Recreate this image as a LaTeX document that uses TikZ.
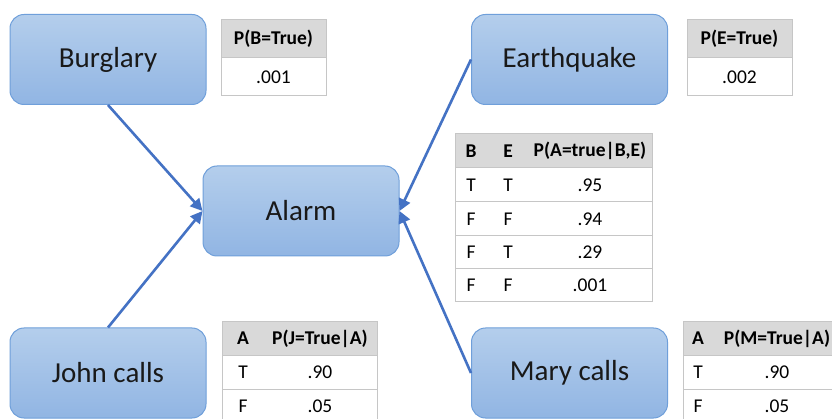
\documentclass[tikz,border=0pt]{standalone}
\usepackage{fontspec}
\setmainfont{Carlito}
\usetikzlibrary{arrows.meta}
\definecolor{nodetop}{HTML}{B4CEEC}
\definecolor{nodebot}{HTML}{91B5E3}
\definecolor{nodeline}{HTML}{6F9FDA}
\definecolor{arrowblue}{HTML}{4472C4}
\definecolor{tblline}{HTML}{C6C6C6}
\definecolor{tblhead}{HTML}{D9D9D9}
\begin{document}
\begin{tikzpicture}[x=1pt,y=-1pt,
  varnode/.style={draw=nodeline,line width=1pt,rounded corners=14pt,
    top color=nodetop,bottom color=nodebot,minimum width=196pt,minimum height=90pt,
    inner sep=0pt,font=\fontsize{29}{34}\selectfont,text=black!90},
  arr/.style={draw=arrowblue,line width=2.6pt,-{Triangle[length=12pt,width=12pt]}},
  tframe/.style={draw=tblline,line width=1pt},
  thead/.style={fill=tblhead,draw=tblline,line width=1pt},
  tsep/.style={draw=tblline,line width=1pt},
  hd/.style={inner sep=0pt,font=\fontsize{19.5}{23}\selectfont\bfseries,anchor=center},
  cell/.style={inner sep=0pt,font=\fontsize{19.5}{23}\selectfont,anchor=center}]
\useasboundingbox (0,0) rectangle (832,419);
\fill[white] (0,0) rectangle (832,419);

% variable nodes
\node[varnode] (burg) at (108,59.5) {Burglary};
\node[varnode] (earth) at (569.5,59.5) {Earthquake};
\node[varnode] (alarm) at (301,211) {Alarm};
\node[varnode] (john) at (108,373) {John calls};
\node[varnode] (mary) at (569.5,373) {Mary calls};

% connectors
\draw[arr] (burg.south) -- (alarm.west);
\draw[arr] (john.north) -- (alarm.west);
\draw[arr] (earth.west) -- (alarm.east);
\draw[arr] (mary.west) -- (alarm.east);

% P(B=True) table
\filldraw[thead] (221,20) rectangle (326,58);
\draw[tframe] (221,20) rectangle (326,96);
\node[hd] (pbh) at (273.5,39) {P(B=True)};
\node[cell] (pbv) at (273.5,77) {.001};

% P(E=True) table
\filldraw[thead] (687,20) rectangle (792,58);
\draw[tframe] (687,20) rectangle (792,96);
\node[hd] (peh) at (739.5,39) {P(E=True)};
\node[cell] (pev) at (739.5,77) {.002};

% Alarm CPT
\filldraw[thead] (455,134) rectangle (652,168);
\draw[tframe] (455,134) rectangle (652,302);
\foreach \yy in {202,236,269} \draw[tsep] (455,\yy) -- (652,\yy);
\node[hd] (ahb) at (471,151) {B};
\node[hd] (ahe) at (508,151) {E};
\node[hd] (ahp) at (590,151) {P(A=true|B,E)};
\node[cell] (ab1) at (471,185) {T};
\node[cell] (ae1) at (508,185) {T};
\node[cell] (ap1) at (590,185) {.95};
\node[cell] (ab2) at (471,219) {F};
\node[cell] (ae2) at (508,219) {F};
\node[cell] (ap2) at (590,219) {.94};
\node[cell] (ab3) at (471,252.5) {F};
\node[cell] (ae3) at (508,252.5) {T};
\node[cell] (ap3) at (590,252.5) {.29};
\node[cell] (ab4) at (471,285.5) {F};
\node[cell] (ae4) at (508,285.5) {F};
\node[cell] (ap4) at (590,285.5) {.001};

% John CPT
\filldraw[thead] (222,322) rectangle (377,355);
\draw[tframe] (222,355) -- (222,430);
\draw[tframe] (377,355) -- (377,430);
\draw[tsep] (222,389) -- (377,389);
\draw[tsep] (222,423) -- (377,423);
\node[hd] (jha) at (243,338.5) {A};
\node[hd] (jhp) at (320,338.5) {P(J=True|A)};
\node[cell] (ja1) at (243,372) {T};
\node[cell] (jp1) at (320,372) {.90};
\node[cell] (ja2) at (243,406) {F};
\node[cell] (jp2) at (320,406) {.05};

% Mary CPT
\filldraw[thead] (683,322) rectangle (845,355);
\draw[tframe] (683,355) -- (683,430);
\draw[tsep] (683,389) -- (845,389);
\draw[tsep] (683,423) -- (845,423);
\node[hd] (mha) at (698,338.5) {A};
\node[hd] (mhp) at (777,338.5) {P(M=True|A)};
\node[cell] (ma1) at (698,372) {T};
\node[cell] (mp1) at (777,372) {.90};
\node[cell] (ma2) at (698,406) {F};
\node[cell] (mp2) at (777,406) {.05};
\end{tikzpicture}
\end{document}
